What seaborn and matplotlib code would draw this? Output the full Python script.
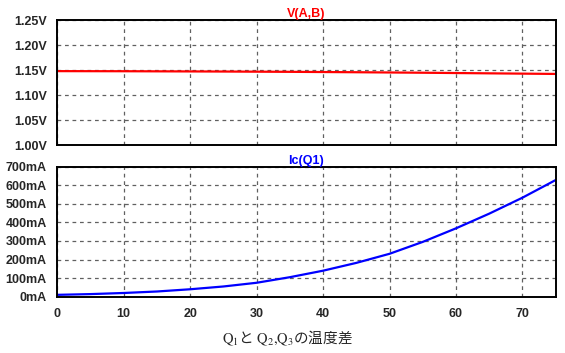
import numpy as np
import pandas as pd
import seaborn as sns
import matplotlib.pyplot as plt
from matplotlib.ticker import FuncFormatter, MultipleLocator

# temperature difference sweep (x axis)
temp_diff = [0, 5, 10, 15, 20, 25, 30, 35, 40, 45, 50, 55, 60, 65, 70, 75]
# V(A,B) in volts
v_ab = [1.1480, 1.1479, 1.1478, 1.1476, 1.1474, 1.1472, 1.1469, 1.1466,
        1.1462, 1.1458, 1.1453, 1.1448, 1.1442, 1.1436, 1.1430, 1.1424]
# Ic(Q1) in mA
ic_q1 = [10, 14, 20, 28, 40, 55, 75, 105, 140, 182, 231, 295, 368, 447, 533, 628]

df = pd.DataFrame({'dT': temp_diff, 'V': v_ab, 'Ic': ic_q1})

sns.set_style('white')
plt.rcParams['font.family'] = ['Liberation Sans', 'DejaVu Sans']
plt.rcParams['mathtext.fontset'] = 'stix'

fig = plt.figure(figsize=(5.65, 3.53), dpi=100)
ax1 = fig.add_axes([0.1014, 0.5884, 0.882, 0.3549])
ax2 = fig.add_axes([0.1014, 0.1595, 0.882, 0.3683])

sns.lineplot(x='dT', y='V', data=df, ax=ax1, color='#ff0000', linewidth=1.6)
sns.lineplot(x='dT', y='Ic', data=df, ax=ax2, color='#0000ff', linewidth=1.6)

ax1.set_ylim(1.0, 1.25)
ax1.yaxis.set_major_locator(MultipleLocator(0.05))
ax1.yaxis.set_major_formatter(FuncFormatter(lambda v, p: f'{v:.2f}V'))
ax2.set_ylim(0, 700)
ax2.yaxis.set_major_locator(MultipleLocator(100))
ax2.yaxis.set_major_formatter(FuncFormatter(lambda v, p: f'{v:.0f}mA'))

for ax in (ax1, ax2):
    ax.set_xlim(0, 75)
    ax.xaxis.set_major_locator(MultipleLocator(10))
    ax.grid(True, color='#606060', linestyle=(0, (3, 3)), linewidth=0.9)
    for s in ax.spines.values():
        s.set_linewidth(1.4)
        s.set_color('black')
    ax.tick_params(direction='out', length=6.5, width=1.4, color='black',
                   labelsize=9, pad=1)
    for lab in ax.get_xticklabels() + ax.get_yticklabels():
        lab.set_fontweight('bold')
    ax.set_xlabel('')
    ax.set_ylabel('')

ax1.tick_params(axis='x', length=0, labelbottom=False)
ax2.tick_params(axis='x', length=5, pad=3)

ax1.set_title('V(A,B)', color='#ff0000', fontsize=9, fontweight='bold', pad=2)
ax2.set_title('Ic(Q1)', color='#0000ff', fontsize=9, fontweight='bold', pad=2)

fig.text(0.508, 0.042, r'$\mathrm{Q_1}$と $\mathrm{Q_2{,}Q_3}$の温度差',
         ha='center', va='center', fontsize=10.5,
         family=['Noto Sans CJK JP', 'DejaVu Sans'])

fig.savefig('out.png', dpi=100)
